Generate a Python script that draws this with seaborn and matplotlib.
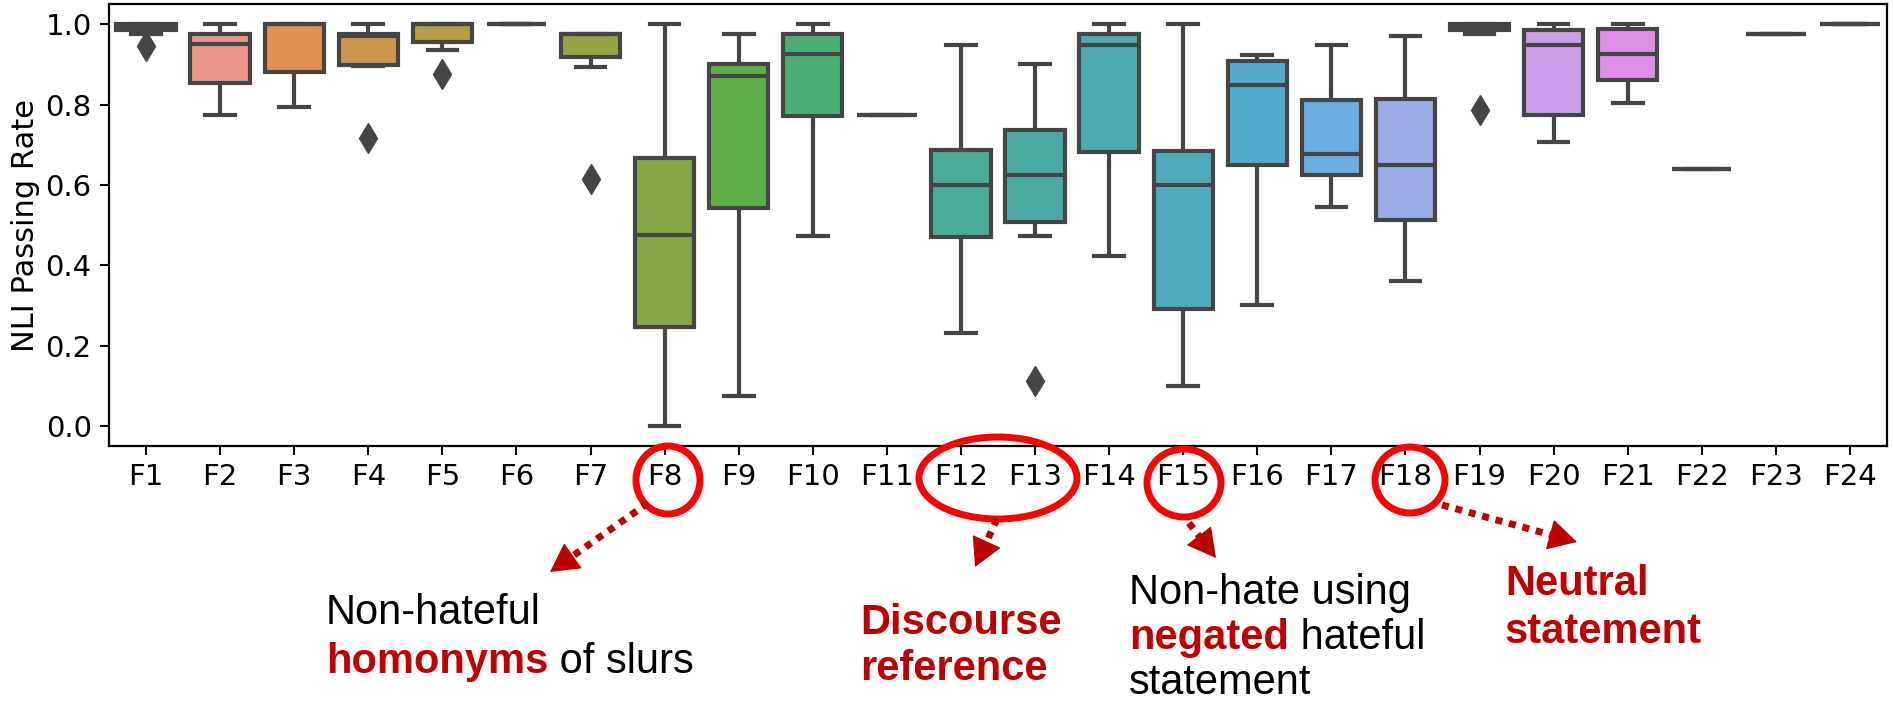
import numpy as np
import pandas as pd
import matplotlib
matplotlib.use("Agg")
import matplotlib.pyplot as plt
from matplotlib.patches import Ellipse, FancyArrowPatch
from matplotlib.lines import Line2D
import seaborn as sns

# ---------------- data ----------------
categories = [f"F{i}" for i in range(1, 25)]
whisker_low = [0.975, 0.775, 0.794, 0.896, 0.935, 1.0, 0.894, 0.0, 0.075, 0.473, 0.775, 0.231,
               0.473, 0.424, 0.100, 0.301, 0.545, 0.360, 0.975, 0.707, 0.805, 0.639, 0.975, 1.0]
q1 = [0.985, 0.853, 0.881, 0.898, 0.956, 1.0, 0.919, 0.246, 0.542, 0.771, 0.775, 0.471,
      0.509, 0.682, 0.292, 0.650, 0.625, 0.512, 0.987, 0.774, 0.862, 0.639, 0.975, 1.0]
median = [0.995, 0.950, 1.0, 0.970, 1.0, 1.0, 0.977, 0.476, 0.872, 0.925, 0.775, 0.601,
          0.625, 0.949, 0.601, 0.850, 0.677, 0.651, 0.995, 0.949, 0.925, 0.639, 0.975, 1.0]
q3 = [1.0, 0.977, 1.0, 0.977, 1.0, 1.0, 0.977, 0.666, 0.902, 0.977, 0.775, 0.688,
      0.738, 0.977, 0.684, 0.908, 0.811, 0.814, 1.0, 0.985, 0.989, 0.639, 0.975, 1.0]
whisker_high = [1.0, 1.0, 1.0, 1.0, 1.0, 1.0, 0.977, 1.0, 0.975, 1.0, 0.775, 0.949,
                0.902, 1.0, 1.0, 0.923, 0.949, 0.972, 1.0, 1.0, 1.0, 0.639, 0.975, 1.0]
outlier = [0.946, np.nan, np.nan, 0.718, 0.877, np.nan, 0.615, np.nan, np.nan, np.nan, np.nan, np.nan,
           0.111, np.nan, np.nan, np.nan, np.nan, np.nan, 0.786, np.nan, np.nan, np.nan, np.nan, np.nan]

# sample points per feature whose quartiles / whiskers / outliers equal the read values
rows = []
for i, cat in enumerate(categories):
    first = outlier[i] if not np.isnan(outlier[i]) else whisker_low[i]
    vals = [first, whisker_low[i], q1[i], q1[i], median[i], q3[i], q3[i],
            whisker_high[i], whisker_high[i]]
    rows += [(cat, v) for v in vals]
df = pd.DataFrame(rows, columns=["feature", "rate"])

# ---------------- figure ----------------
W, H = 1893, 713
fig = plt.figure(figsize=(W / 100, H / 100), dpi=100)
ax = fig.add_axes([109 / W, 1 - 446 / H, (1887 - 109) / W, (446 - 4.3) / H])

LINE = "#454545"
sns.boxplot(data=df, x="feature", y="rate", hue="feature", order=categories,
            hue_order=categories, palette=sns.husl_palette(24, l=0.7), saturation=0.75,
            width=0.8, linewidth=3.0, linecolor=LINE, fliersize=15,
            flierprops=dict(marker="d", markerfacecolor=LINE, markeredgecolor=LINE),
            legend=False, ax=ax)

ax.set_ylim(-0.05, 1.05)
ax.set_xlim(-0.5, 23.5)
ax.set_yticks([0.0, 0.2, 0.4, 0.6, 0.8, 1.0])
ax.set_xlabel("")
ax.set_ylabel("NLI Passing Rate", fontsize=22)
ax.tick_params(axis="both", labelsize=21, length=6.5, width=1.5, pad=6)
for sp in ax.spines.values():
    sp.set_linewidth(1.6)
    sp.set_color("black")

# ---------------- annotations ----------------
DARKRED = "#c00000"
BRIGHT = "#ff0000"
FONT = "Liberation Sans"
FS = 30


def fx(px):
    return px / W


def fy(py):
    return 1 - py / H


def rich_line(x, y, parts):
    prev = None
    for s, bold in parts:
        kw = dict(fontsize=FS, family=FONT, color=DARKRED if bold else "black",
                  fontweight="bold" if bold else "normal", ha="left")
        if prev is None:
            prev = fig.text(fx(x), fy(y), s, va="baseline", **kw)
        else:
            prev = ax.annotate(s, xy=(1, 0), xycoords=prev, va="bottom",
                               annotation_clip=False, **kw)


rich_line(326, 624, [("Non-hateful", False)])
rich_line(326, 673, [("homonyms", True), (" of slurs", False)])

rich_line(860, 634, [("Discourse", True)])
rich_line(860, 680, [("reference", True)])

rich_line(1129, 604, [("Non-hate using", False)])
rich_line(1129, 649, [("negated", True), (" hateful", False)])
rich_line(1129, 694, [("statement", False)])

rich_line(1505, 595, [("Neutral", True)])
rich_line(1505, 643, [("statement", True)])

# ellipses around highlighted tick labels
for cx, cy, w, h in [(668, 480, 64, 68), (998, 478, 158, 82),
                     (1184, 483, 74, 68), (1410, 480, 70, 66)]:
    e = Ellipse((fx(cx), fy(cy)), width=w / W, height=h / H, transform=fig.transFigure,
                fill=False, edgecolor=BRIGHT, lw=5, zorder=10)
    fig.add_artist(e)

# dotted arrows (dotted shaft + solid head)
for (x0, y0), (x1, y1) in [((648, 503), (550, 572)), ((997, 519), (975, 567)),
                           ((1189, 523), (1216, 558)), ((1442, 505), (1577, 542))]:
    dx, dy = x1 - x0, y1 - y0
    L = np.hypot(dx, dy)
    ux, uy = dx / L, dy / L
    hx, hy = x1 - 18 * ux, y1 - 18 * uy
    shaft = Line2D([fx(x0), fx(hx)], [fy(y0), fy(hy)], transform=fig.transFigure,
                   color=DARKRED, lw=5, linestyle=(0, (1, 1)), zorder=10)
    fig.add_artist(shaft)
    head = FancyArrowPatch((fx(x1 - 20 * ux), fy(y1 - 20 * uy)), (fx(x1), fy(y1)),
                           transform=fig.transFigure, arrowstyle="-|>,head_length=0.55,head_width=0.3",
                           mutation_scale=34, lw=1, color=DARKRED, shrinkA=0, shrinkB=0, zorder=11)
    fig.add_artist(head)

fig.savefig("out.png", dpi=100)
